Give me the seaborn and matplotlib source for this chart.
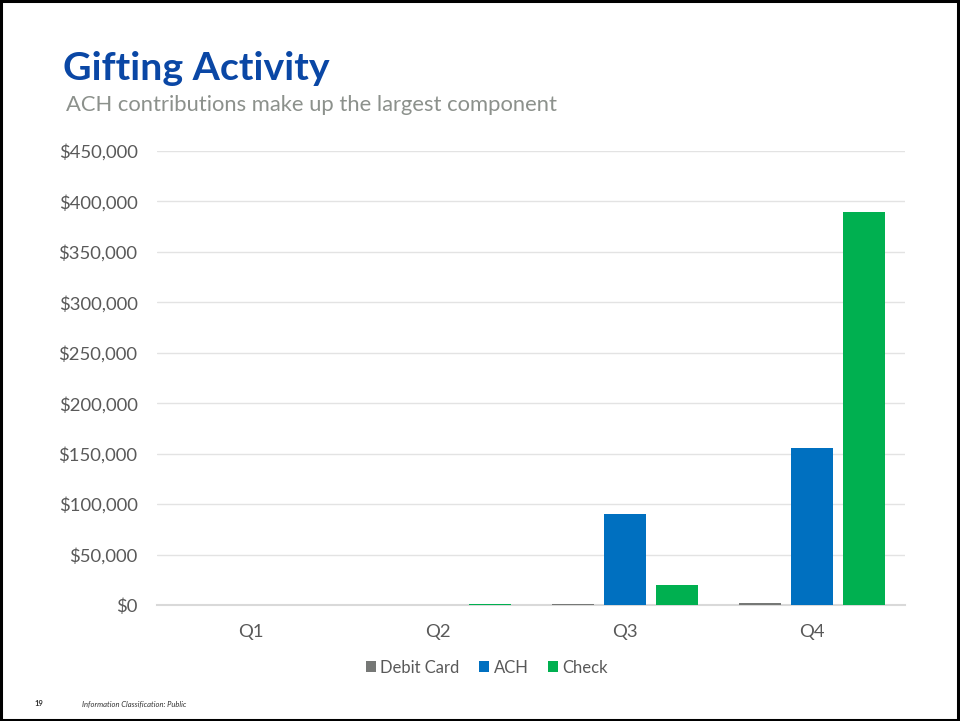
import matplotlib
matplotlib.use("Agg")
import matplotlib.pyplot as plt
from matplotlib.patches import Rectangle
from matplotlib.ticker import FuncFormatter
import seaborn as sns
import pandas as pd

quarters = ["Q1", "Q2", "Q3", "Q4"]
methods = ["Debit Card", "ACH", "Check"]
debit_card = [0, 0, 600, 2200]
ach = [0, 0, 90000, 155500]
check = [0, 700, 20000, 389500]
colors = ["#767876", "#0070C0", "#00B050"]
y_ticks = [0, 50000, 100000, 150000, 200000, 250000, 300000, 350000, 400000, 450000]

df = pd.DataFrame({
    "Quarter": quarters * 3,
    "Method": [m for m in methods for _ in quarters],
    "Amount": debit_card + ach + check,
})

sns.set_theme(style="white")
plt.rcParams["font.family"] = ["Lato", "DejaVu Sans"]

fig = plt.figure(figsize=(9.6, 7.21), dpi=100)
ax = fig.add_axes([0.1635, 0.1609, 0.7795, 0.6297])

sns.barplot(data=df, x="Quarter", y="Amount", hue="Method", order=quarters,
            hue_order=methods, palette=colors, width=0.834, gap=0.19,
            saturation=1, linewidth=0, ax=ax, legend=True)
for p in ax.patches:
    p.set_zorder(3)
    p.set_linewidth(0)

ax.set_ylim(0, 450000)
ax.set_yticks(y_ticks)
ax.yaxis.set_major_formatter(FuncFormatter(lambda v, p: f"${v:,.0f}"))
ax.grid(axis="y", color="#E3E3E3", linewidth=1)
ax.set_axisbelow(True)
for s in ["left", "right", "top"]:
    ax.spines[s].set_visible(False)
ax.spines["bottom"].set_color("#D9D9D9")
ax.spines["bottom"].set_linewidth(1.5)
ax.spines["bottom"].set_zorder(2)
ax.tick_params(axis="both", length=0, labelsize=13.3, colors="#595959")
ax.tick_params(axis="y", pad=14)
ax.tick_params(axis="x", pad=14)
ax.set_xlabel("")
ax.set_ylabel("")

leg = ax.legend(loc="center", bbox_to_anchor=(0.441, -0.138), ncol=3, frameon=False,
                fontsize=12, handlelength=0.6, handleheight=0.6,
                handletextpad=0.25, columnspacing=1.2)
for t in leg.get_texts():
    t.set_color("#595959")

fig.text(0.066, 0.905, "Gifting Activity", fontsize=28.3, fontweight="bold",
         color="#0A47A5", va="center")
fig.text(0.069, 0.855, "ACH contributions make up the largest component",
         fontsize=15.8, color="#8C918C", va="center")
fig.text(0.036, 0.024, "19", fontsize=5.5, fontweight="bold", color="#333333", va="center")
fig.text(0.085, 0.024, "Information Classification: Public", fontsize=5.5,
         style="italic", color="#333333", va="center")

fig.patches.append(Rectangle((0.001, 0.002), 0.997, 0.996, transform=fig.transFigure,
                             fill=False, edgecolor="black", linewidth=2.2))

fig.savefig("out.png", dpi=100)
